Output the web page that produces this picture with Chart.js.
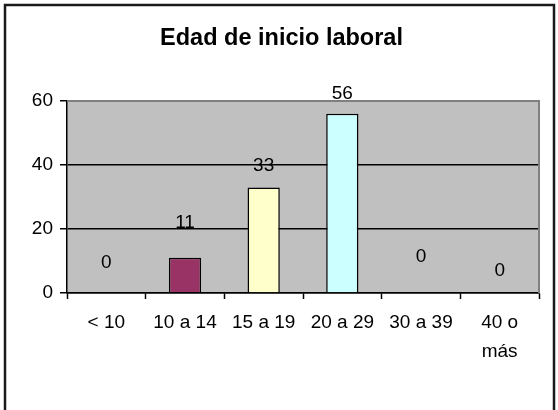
<!DOCTYPE html>
<html>
<head>
<meta charset="utf-8">
<script src="https://cdn.jsdelivr.net/npm/chart.js@4"></script>
<style>
  html, body { margin: 0; padding: 0; background: #fff; }
  #wrap { width: 558px; height: 410px; }
</style>
</head>
<body>
<div id="wrap"><canvas id="chart" width="558" height="410"></canvas></div>
<script>
// data
const categories = ['< 10', '10 a 14', '15 a 19', '20 a 29', '30 a 39', ['40 o', 'más']];
const values = [0, 11, 33, 56, 0, 0];
const barColors = ['#9999FF', '#993366', '#FFFFCC', '#CCFFFF', '#660066', '#FF8080'];
const yTicks = [0, 20, 40, 60];
const titleText = 'Edad de inicio laboral';

const FONT = "'Liberation Sans', Arial, sans-serif";

/* --------- fondo, marco y area gris --------- */
const framePlugin = {
  id: 'frame',
  beforeDraw(chart) {
    const { ctx, chartArea: a } = chart;
    ctx.save();
    ctx.fillStyle = '#fff';
    ctx.fillRect(0, 0, chart.width, chart.height);
    ctx.strokeStyle = '#1a1a1a';
    ctx.lineWidth = 2.5;
    ctx.strokeRect(5, 5, 549, 420);
    ctx.fillStyle = '#C0C0C0';
    ctx.fillRect(a.left, a.top, a.right - a.left, a.bottom - a.top);
    ctx.restore();
  },
  beforeDatasetsDraw(chart) {
    const { ctx, chartArea: a } = chart;
    ctx.save();
    ctx.strokeStyle = '#808080';
    ctx.lineWidth = 2;
    ctx.beginPath();
    ctx.moveTo(a.left, a.top);
    ctx.lineTo(a.right, a.top);
    ctx.lineTo(a.right, a.bottom);
    ctx.stroke();
    ctx.restore();
  }
};

/* --------- etiquetas de valores --------- */
const valueLabels = {
  id: 'valueLabels',
  afterDatasetsDraw(chart, args, opts) {
    const { ctx } = chart;
    const meta = chart.getDatasetMeta(0);
    ctx.save();
    ctx.font = '19px ' + FONT;
    ctx.fillStyle = '#000';
    ctx.textAlign = 'center';
    ctx.textBaseline = 'middle';
    meta.data.forEach((bar, i) => {
      const off = (opts.offsets && opts.offsets[i]) || 20;
      ctx.fillText(String(values[i]), bar.x, bar.y - off);
    });
    ctx.restore();
  }
};

Chart.defaults.color = '#000';
Chart.defaults.font.family = FONT;

new Chart(document.getElementById('chart').getContext('2d'), {
  type: 'bar',
  data: {
    labels: categories,
    datasets: [{
      data: values,
      backgroundColor: barColors,
      borderColor: '#000',
      borderWidth: 1.5,
      barPercentage: 0.41,
      categoryPercentage: 1
    }]
  },
  options: {
    responsive: false,
    animation: false,
    layout: { padding: { left: 24, right: 19, top: 0, bottom: 0 } },
    plugins: {
      legend: { display: false },
      tooltip: { enabled: false },
      title: {
        display: true,
        text: titleText,
        color: '#000',
        font: { size: 23.5, weight: 'bold', family: FONT },
        padding: { top: 24.2, bottom: 48.6 }
      },
      valueLabels: { offsets: [30, 35, 22, 20, 36, 22] }
    },
    scales: {
      x: {
        offset: true,
        grid: {
          offset: true,
          drawOnChartArea: false,
          drawTicks: true,
          tickLength: 6,
          tickColor: '#000',
          tickWidth: 1.5
        },
        border: { display: true, color: '#000', width: 1.5 },
        ticks: {
          autoSkip: false,
          maxRotation: 0,
          padding: 10,
          color: '#000',
          font: { size: 19, lineHeight: 1.5 }
        },
        afterFit(scale) { scale.height = 117; }
      },
      y: {
        min: yTicks[0],
        max: yTicks[yTicks.length - 1],
        afterBuildTicks(scale) { scale.ticks = yTicks.map(v => ({ value: v })); },
        grid: {
          color: ctx => (ctx.tick && ctx.tick.value === yTicks[yTicks.length - 1]) ? 'rgba(0,0,0,0)' : '#000',
          lineWidth: 1.5,
          drawTicks: true,
          tickLength: 7,
          tickColor: '#000',
          tickWidth: 1.5
        },
        border: { display: true, color: '#000', width: 1.5 },
        ticks: {
          padding: 7,
          color: '#000',
          font: { size: 19 }
        },
        afterFit(scale) { scale.width = 43; }
      }
    }
  },
  plugins: [framePlugin, valueLabels]
});
</script>
</body>
</html>
